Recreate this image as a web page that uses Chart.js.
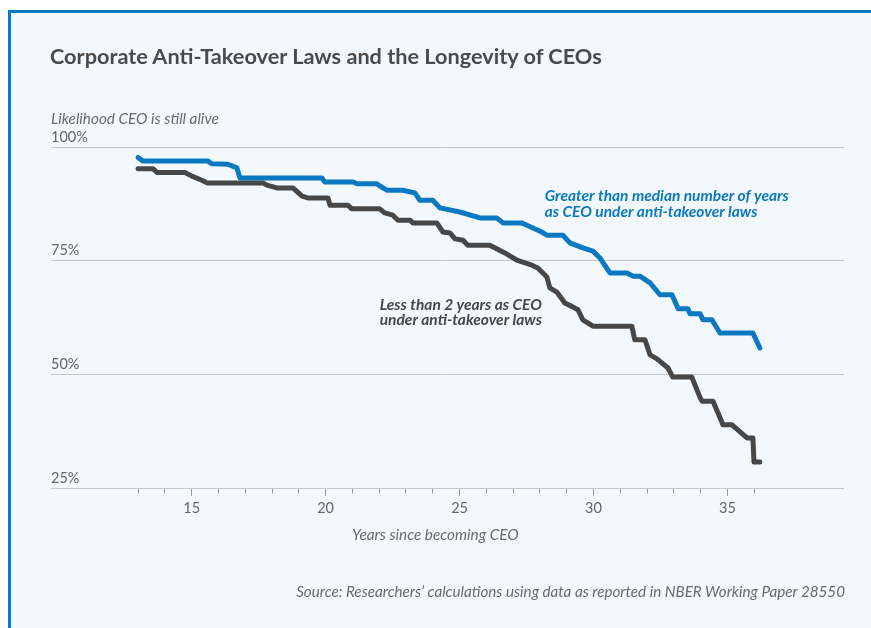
<!DOCTYPE html>
<html>
<head>
<meta charset="utf-8">
<script src="https://cdn.jsdelivr.net/npm/chart.js@4"></script>
<style>
  html, body { margin: 0; padding: 0; width: 871px; height: 628px; overflow: hidden; background: #ffffff; font-family: Lato, "Open Sans", sans-serif; }
  #frame { position: absolute; left: 8px; top: 10px; width: 900px; height: 700px; border-top: 3px solid #0a7bc2; border-left: 3px solid #0a7bc2; background: #f3f8fc; }
  #wrap { position: absolute; left: 0; top: 0; width: 871px; height: 628px; }
  .txt { position: absolute; white-space: nowrap; }
  #title { left: 50px; top: 43px; font-size: 21.7px; font-weight: bold; color: #4a4a4a; }
  #ytitle { left: 51px; top: 109px; font-size: 15.3px; font-style: italic; color: #6a6a6a; }
  #xtitle { left: 352px; top: 525px; font-size: 15.3px; font-style: italic; color: #6a6a6a; }
  #source { right: 26px; top: 582px; font-size: 15.2px; font-style: italic; color: #6a6a6a; }
</style>
</head>
<body>
<div id="frame"></div>
<div id="wrap"><canvas id="chart"></canvas></div>
<div class="txt" id="title">Corporate Anti-Takeover Laws and the Longevity of CEOs</div>
<div class="txt" id="ytitle">Likelihood CEO is still alive</div>
<div class="txt" id="xtitle">Years since becoming CEO</div>
<div class="txt" id="source">Source: Researchers’ calculations using data as reported in NBER Working Paper 28550</div>
<script>
/* survival curves: years since becoming CEO, % still alive */
var greaterYears = [13.0, 13.18, 15.61, 15.76, 16.35, 16.69, 16.80, 19.86, 19.97, 21.02, 21.17, 21.91, 22.14, 22.29, 22.88,
  23.33, 23.52, 24.0, 24.27, 25.01, 25.76, 26.39, 26.62, 27.33, 27.74, 28.07, 28.26, 28.86, 29.12, 29.60, 29.98, 30.24,
  30.61, 31.25, 31.47, 31.73, 32.11, 32.48, 32.93, 33.16, 33.53, 33.60, 33.98, 34.09, 34.42, 34.72, 35.95, 36.21];
var greaterAlive = [97.7, 96.9, 96.9, 96.3, 96.2, 95.4, 93.2, 93.2, 92.3, 92.3, 91.9, 91.9, 91.0, 90.5, 90.5,
  89.9, 88.3, 88.3, 86.6, 85.7, 84.4, 84.4, 83.3, 83.3, 82.2, 81.3, 80.6, 80.6, 78.9, 77.8, 77.1, 75.6,
  72.3, 72.3, 71.6, 71.6, 70.1, 67.5, 67.5, 64.4, 64.4, 63.3, 63.3, 62.0, 62.0, 59.1, 59.1, 55.8];

var lessYears = [13.0, 13.56, 13.71, 14.75, 15.01, 15.38, 15.57, 17.66, 17.81, 18.18, 18.78, 19.12, 19.34, 20.09, 20.16,
  20.83, 20.98, 22.02, 22.21, 22.51, 22.70, 23.15, 23.26, 24.15, 24.38, 24.64, 24.83, 25.13, 25.31, 26.13, 26.69,
  27.14, 27.70, 27.92, 28.26, 28.37, 28.63, 28.93, 29.23, 29.42, 29.60, 29.98, 31.43, 31.54, 31.92, 32.11, 32.37,
  32.78, 32.96, 33.67, 33.97, 34.05, 34.46, 34.79, 34.83, 35.17, 35.73, 35.95, 35.99, 36.21];
var lessAlive = [95.2, 95.2, 94.4, 94.4, 93.6, 92.7, 92.1, 92.1, 91.6, 91.0, 91.0, 89.2, 88.8, 88.8, 87.2,
  87.2, 86.4, 86.4, 85.5, 85.0, 83.9, 83.9, 83.3, 83.3, 81.3, 81.1, 79.8, 79.5, 78.4, 78.4, 76.7,
  75.1, 74.0, 73.4, 71.4, 69.0, 68.1, 65.7, 64.8, 64.2, 62.0, 60.6, 60.6, 57.6, 57.6, 54.3, 53.4,
  51.4, 49.4, 49.4, 45.0, 44.1, 44.1, 39.5, 38.9, 38.9, 36.0, 36.0, 30.7, 30.7];

var yTicks = [25, 50, 75, 100];
var xTicks = [13, 14, 15, 16, 17, 18, 19, 20, 21, 22, 23, 24, 25, 26, 27, 28, 29, 30, 31, 32, 33, 34, 35, 36];
var labelledTicks = [15, 20, 25, 30, 35];

var BLUE = '#0a79c2';
var GRAY = '#474747';

var seriesLabels = [
  { x: 28.18, y: 89.2, color: BLUE, lines: ['Greater than median number of years', 'as CEO under anti-takeover laws'] },
  { x: 22.02, y: 65.3, color: GRAY, lines: ['Less than 2 years as CEO', 'under anti-takeover laws'] }
];

function toPoints(xs, ys) {
  return xs.map(function(x, i){ return { x: x, y: ys[i] }; });
}

var seriesText = {
  id: 'seriesText',
  afterDatasetsDraw: function(chart) {
    var ctx = chart.ctx, xs = chart.scales.x, ys = chart.scales.y;
    ctx.save();
    ctx.font = 'italic bold 15.5px Lato, sans-serif';
    ctx.textAlign = 'left';
    ctx.textBaseline = 'middle';
    seriesLabels.forEach(function(l){
      ctx.fillStyle = l.color;
      var px = xs.getPixelForValue(l.x), py = ys.getPixelForValue(l.y);
      l.lines.forEach(function(t, i){ ctx.fillText(t, px, py + i * 15.5); });
    });
    ctx.restore();
  }
};

new Chart(document.getElementById('chart'), {
  type: 'line',
  data: {
    datasets: [
      { label: 'Greater than median', data: toPoints(greaterYears, greaterAlive), borderColor: BLUE, borderWidth: 5,
        pointRadius: 0, fill: false, tension: 0, borderCapStyle: 'round', borderJoinStyle: 'round' },
      { label: 'Less than 2 years', data: toPoints(lessYears, lessAlive), borderColor: GRAY, borderWidth: 5,
        pointRadius: 0, fill: false, tension: 0, borderCapStyle: 'round', borderJoinStyle: 'round' }
    ]
  },
  options: {
    responsive: true,
    maintainAspectRatio: false,
    animation: false,
    layout: { padding: { left: 51, right: 27, top: 147, bottom: 110 } },
    plugins: { legend: { display: false }, tooltip: { enabled: false } },
    scales: {
      x: {
        type: 'linear', min: 9.75, max: 39.35,
        afterBuildTicks: function(s){ s.ticks = xTicks.map(function(v){ return { value: v }; }); },
        afterFit: function(s){ s.height = 30; },
        border: { display: false },
        grid: {
          drawOnChartArea: false, drawTicks: true, tickLength: 8, tickColor: '#9a9a9a', tickWidth: 1,
          tickBorderDash: function(c){ return labelledTicks.indexOf(c.tick && c.tick.value) >= 0 ? [] : [5.5, 20]; }
        },
        ticks: {
          padding: 4, color: '#666666', font: { family: 'Lato', size: 14.5 }, autoSkip: false, maxRotation: 0,
          callback: function(v){ return labelledTicks.indexOf(v) >= 0 ? String(v) : ''; }
        }
      },
      y: {
        min: 25, max: 100,
        afterBuildTicks: function(s){ s.ticks = yTicks.map(function(v){ return { value: v }; }); },
        afterFit: function(s){ s.width = 0; },
        border: { display: false },
        grid: { color: '#c9c9c9', lineWidth: 1, drawTicks: false },
        ticks: {
          mirror: true, padding: 0, labelOffset: -10, color: '#666666', font: { family: 'Lato', size: 14.5 },
          callback: function(v){ return v + '%'; }
        }
      }
    }
  },
  plugins: [seriesText]
});
</script>
</body>
</html>
